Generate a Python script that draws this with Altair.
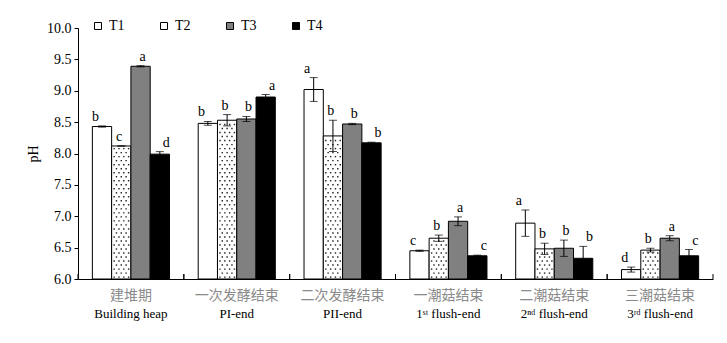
import altair as alt
import pandas as pd
import numpy as np

groups_cn = ["建堆期", "一次发酵结束", "二次发酵结束", "一潮菇结束", "二潮菇结束", "三潮菇结束"]
groups_en = ["Building heap", "PI-end", "PII-end", "1ˢᵗ flush-end", "2ⁿᵈ flush-end", "3ʳᵈ flush-end"]
treatments = ["T1", "T2", "T3", "T4"]

T1 = [8.43, 8.48, 9.02, 6.45, 6.89, 6.15]
T2 = [8.12, 8.53, 8.28, 6.65, 6.48, 6.46]
T3 = [9.39, 8.55, 8.47, 6.92, 6.49, 6.65]
T4 = [7.99, 8.90, 8.17, 6.37, 6.33, 6.37]

E1 = [0.01, 0.03, 0.19, 0.01, 0.21, 0.04]
E2 = [0.00, 0.09, 0.25, 0.05, 0.09, 0.03]
E3 = [0.01, 0.04, 0.01, 0.07, 0.13, 0.04]
E4 = [0.04, 0.04, 0.01, 0.01, 0.19, 0.10]

L1 = ["b", "b", "a", "c", "a", "d"]
L2 = ["c", "b", "b", "b", "b", "b"]
L3 = ["a", "b", "b", "a", "b", "a"]
L4 = ["d", "a", "b", "c", "b", "c"]

y_ticks = [6.0, 6.5, 7.0, 7.5, 8.0, 8.5, 9.0, 9.5, 10.0]

vals = {"T1": T1, "T2": T2, "T3": T3, "T4": T4}
errs = {"T1": E1, "T2": E2, "T3": E3, "T4": E4}
lets = {"T1": L1, "T2": L2, "T3": L3, "T4": L4}

rows = []
for t in treatments:
    for i, g in enumerate(groups_cn):
        v = vals[t][i]
        e = errs[t][i]
        rows.append({"g": g, "en": groups_en[i], "t": t, "v": v, "lo": v - e, "hi": v + e, "L": lets[t][i]})
df = pd.DataFrame(rows)
gdf = pd.DataFrame({"g": groups_cn, "en": groups_en})

# stipple texture for T2 bars (derived from the T2 values)
dots = []
for i, g in enumerate(groups_cn):
    top = T2[i]
    k = 0
    y = 6.03
    while y < top - 0.02:
        cols = [1.13, 1.38, 1.63, 1.88] if k % 2 == 0 else [1.25, 1.5, 1.75]
        for c in cols:
            dots.append({"g": g, "dx": c, "dy": y})
        k += 1
        y = 6.03 + k * 0.064
ddf = pd.DataFrame(dots)

W, H = 635, 251
serif = "Liberation Serif"

xs = alt.X("g:N", sort=groups_cn, scale=alt.Scale(paddingInner=0, paddingOuter=0),
           axis=alt.Axis(labels=False, ticks=False, title=None, domainColor="black", domainWidth=1))
xoff = alt.XOffset("t:N", scale=alt.Scale(domain=treatments, paddingInner=0, paddingOuter=0.745))
yscale = alt.Scale(domain=[6, 10], nice=False, zero=False)
yaxis = alt.Axis(values=y_ticks, format=".1f", grid=False,
                 labelOverlap=False, labelFlush=False,
                 domainColor="black", tickColor="black", tickSize=4, labelPadding=3,
                 labelFont=serif, labelFontSize=14, labelColor="black",
                 title="pH", titleFont=serif, titleFontSize=14, titleFontWeight="normal",
                 titleColor="black", titlePadding=6)


def Y(field):
    return alt.Y(field, scale=yscale, axis=yaxis, title="pH")


bars = alt.Chart(df).mark_bar(stroke="black", strokeWidth=1).encode(
    x=xs,
    xOffset=xoff,
    y=Y("v:Q"),
    y2=alt.datum(6),
    fill=alt.Fill("t:N", scale=alt.Scale(domain=treatments, range=["white", "white", "#808080", "black"]),
                  legend=alt.Legend(orient="none", legendX=13, legendY=-9, direction="horizontal",
                                    title=None, symbolType="square", symbolSize=49,
                                    symbolStrokeColor="black", symbolStrokeWidth=1,
                                    labelFont=serif, labelFontSize=14, labelColor="black",
                                    columnPadding=32, labelOffset=4)),
)

dotl = alt.Chart(ddf).mark_square(size=2, color="#222", opacity=1).encode(
    x=alt.X("g:N", sort=groups_cn),
    xOffset=alt.XOffset("dx:Q", scale=alt.Scale(domain=[-0.745, 4.745])),
    y=Y("dy:Q"),
)

rule = alt.Chart(df).mark_rule(color="black", strokeWidth=1).encode(
    x=alt.X("g:N", sort=groups_cn), xOffset=xoff,
    y=Y("lo:Q"), y2="hi:Q")
cap_hi = alt.Chart(df).mark_tick(color="black", size=8, thickness=1, orient="horizontal").encode(
    x=alt.X("g:N", sort=groups_cn), xOffset=xoff, y=Y("hi:Q"))
cap_lo = alt.Chart(df).mark_tick(color="black", size=8, thickness=1, orient="horizontal").encode(
    x=alt.X("g:N", sort=groups_cn), xOffset=xoff, y=Y("lo:Q"))

letters = alt.Chart(df).mark_text(font=serif, fontSize=14, color="black", baseline="alphabetic", dy=-5).encode(
    x=alt.X("g:N", sort=groups_cn), xOffset=xoff, y=Y("hi:Q"), text="L:N")

tick0 = alt.Chart(gdf).mark_rule(color="black", strokeWidth=1).encode(
    x=alt.X("g:N", sort=groups_cn, bandPosition=0), y=alt.value(H), y2=alt.value(H - 5))
tick1 = alt.Chart(gdf).mark_rule(color="black", strokeWidth=1).encode(
    x=alt.X("g:N", sort=groups_cn, bandPosition=1), y=alt.value(H), y2=alt.value(H - 5))

lab_cn = alt.Chart(gdf).mark_text(font="Noto Sans CJK SC", fontSize=14, color="#8a8a8a", baseline="middle").encode(
    x=alt.X("g:N", sort=groups_cn), y=alt.value(H + 17), text="g:N")
lab_en = alt.Chart(gdf).mark_text(font=serif, fontSize=13, color="black", baseline="middle").encode(
    x=alt.X("g:N", sort=groups_cn), y=alt.value(H + 35), text="en:N")

chart = alt.layer(bars, dotl, rule, cap_hi, cap_lo, letters, tick0, tick1, lab_cn, lab_en).resolve_scale(
    xOffset="independent"
).properties(
    width=W, height=H, autosize="none",
    padding={"left": 78, "top": 28, "right": 14, "bottom": 64},
    background="white",
).configure_view(stroke=None)

chart.save("out.html", embed_options={"renderer": "svg", "actions": False})
